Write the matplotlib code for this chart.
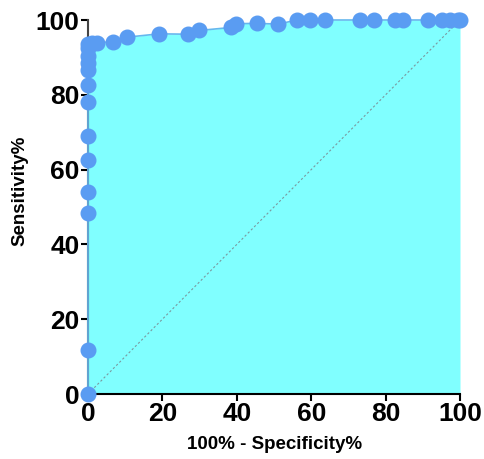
import matplotlib
matplotlib.use("Agg")
import matplotlib.pyplot as plt

plt.rcParams['font.family'] = ['Liberation Sans', 'DejaVu Sans']

fpr = [0, 0, 0, 0, 0, 0, 0, 0, 0, 0, 0, 0, 0, 1.2, 2.4, 6.8, 10.4, 19.1, 27.0, 29.9,
       38.4, 39.7, 45.3, 51.2, 56.1, 59.7, 63.7, 73.1, 76.9, 82.5, 84.8,
       91.5, 95.1, 97.3, 99.5, 100]
tpr = [0, 11.7, 48.5, 53.9, 62.7, 68.9, 78.2, 82.7, 86.7, 88.4, 90.5, 92.5, 93.6, 93.8, 93.9,
       94.2, 95.4, 96.3, 96.2, 97.2, 98.0, 99.0, 99.1, 98.9, 100, 100, 100, 100, 100,
       100, 100, 100, 100, 100, 100, 100]

xticks = [0, 20, 40, 60, 80, 100]
yticks = [0, 20, 40, 60, 80, 100]

fig = plt.figure(figsize=(4.84, 4.59), dpi=100)
ax = fig.add_axes([88/484, 1-394/459, (460-88)/484, (394-20)/459])

ax.fill_between(fpr, tpr, 0, color='#80FFFF', zorder=1, linewidth=0)
ax.plot([0, 100], [0, 100], linestyle=(0, (2, 2)), color='#7a9aa0', linewidth=0.8, zorder=2)
ax.plot(fpr, tpr, color='#66B8EE', linewidth=1.2, zorder=3, clip_on=False)
ax.plot(fpr, tpr, linestyle='none', marker='o', markersize=10.5,
        markerfacecolor='#5A9CF2', markeredgecolor='#5A9CF2', zorder=4, clip_on=False)

ax.set_xlim(0, 100)
ax.set_ylim(0, 100)
ax.set_xticks(xticks)
ax.set_yticks(yticks)
ax.set_xticklabels([str(t) for t in xticks], fontsize=19, fontweight='bold')
ax.set_yticklabels([str(t) for t in yticks], fontsize=19, fontweight='bold')
ax.tick_params(axis='both', direction='out', length=5, width=1.5, pad=1)

for s in ['top', 'right']:
    ax.spines[s].set_visible(False)
ax.spines['left'].set_linewidth(1.5)
ax.spines['left'].set_color('#444444')
ax.spines['bottom'].set_linewidth(1.5)
ax.spines['bottom'].set_color('black')

ax.set_xlabel('100% - Specificity%', fontsize=13.5, fontweight='bold', va='center')
ax.set_ylabel('Sensitivity%', fontsize=13.5, fontweight='bold', va='center')
ax.xaxis.set_label_coords(0.501, -0.136)
ax.yaxis.set_label_coords(-0.183, 0.543)

fig.savefig('out.png', dpi=100, facecolor='white')
